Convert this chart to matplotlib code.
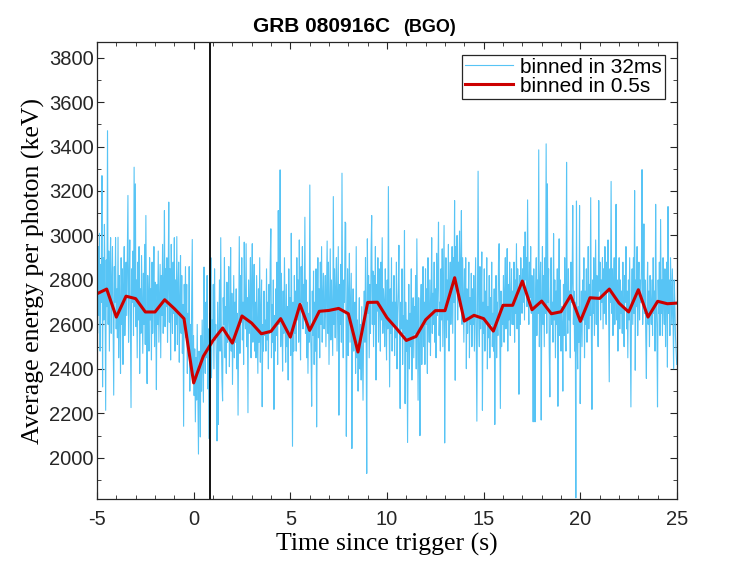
import numpy as np
import matplotlib
matplotlib.use('Agg')
import matplotlib.pyplot as plt
from matplotlib.ticker import MultipleLocator

plt.rcParams['axes.unicode_minus'] = False

# 32 ms binned average energy (keV), starting at t = -5 s
bin_32ms = 0.032
t0 = -5.0
energy_32ms = [
    2820, 2560, 2950, 2640, 3010, 2480, 2870, 2700, 3269, 2319, 2900, 2620, 3050, 2760, 2214, 2890,
    2680, 3471, 2600, 2930, 2480, 2840, 2990, 2560, 2780, 2950, 2620, 2282, 2860, 2700, 2990, 2580,
    2760, 2540, 2992, 2450, 2820, 2690, 2380, 2900, 2600, 2850, 2420, 2760, 2950, 2550, 2700, 2880,
    2640, 2900, 3180, 2520, 2780, 2980, 2610, 2226, 2850, 2700, 2930, 2550, 3307, 2680, 3232, 2590,
    2800, 2450, 2880, 2620, 2950, 2380, 2760, 2560, 2910, 2690, 2470, 2830, 2600, 2960, 2510, 3090,
    2580, 2334, 2820, 2690, 2480, 2900, 2620, 2760, 2440, 2880, 2560, 2720, 2950, 2500, 2790, 2640,
    2307, 2780, 2600, 2930, 2520, 2700, 2870, 2450, 2820, 2640, 2960, 2560, 2740, 3112, 2590, 2850,
    2680, 2900, 2520, 2780, 3150, 2610, 2850, 2440, 2960, 2700, 2560, 2880, 2650, 2990, 2480, 2800,
    2600, 2995, 2510, 2760, 2880, 2430, 2700, 2910, 2560, 2820, 2470, 2690, 2142, 2780, 2600, 2860,
    2540, 2780, 2380, 2650, 2480, 2860, 2300, 2600, 2420, 2720, 2982, 2350, 2550, 2280, 2490, 2162,
    2450, 2260, 2600, 2330, 2017, 2480, 2380, 2094, 2550, 2300, 2620, 2420, 2250, 2858, 2500, 2380,
    2700, 2450, 2820, 2310, 2580, 2087, 2650, 2480, 2900, 2360, 2620, 2540, 2780, 2400, 2850, 2530,
    2600, 2420, 2076, 2700, 2150, 2560, 2800, 2480, 2990, 2550, 2350, 2256, 2720, 2600, 2900, 2450,
    2680, 2380, 2790, 2520, 2650, 2860, 2410, 2600, 2946, 2480, 2740, 2330, 2580, 2820, 2450, 2700,
    2520, 2760, 2400, 2650, 2192, 2580, 2995, 2470, 2820, 2610, 2900, 2530, 2700, 2420, 2970, 2640,
    2580, 2963, 2500, 2720, 2203, 2800, 2560, 2680, 2900, 2450, 2760, 2963, 2520, 2640, 2870, 2480,
    2700, 2450, 2820, 2600, 2380, 2760, 2520, 2900, 2430, 2650, 2800, 2230, 2600, 2480, 2750, 2550,
    2620, 2480, 2850, 2530, 2700, 2400, 2780, 2560, 2880, 3030, 2450, 2690, 2520, 2800, 2218, 2640,
    2480, 2760, 2550, 2880, 2420, 3112, 2600, 2700, 3295, 2500, 2830, 2640, 2390, 2750, 2560, 2900,
    2620, 2430, 2780, 2500, 2680, 2350, 2850, 2550, 2720, 2460, 3010, 2600, 2052, 2700, 2480, 2820,
    2560, 2750, 2480, 2900, 2620, 2800, 2520, 2980, 2650, 2440, 2860, 2700, 2950, 2580, 2780, 2640,
    3082, 2560, 2800, 2450, 2700, 2380, 2650, 2520, 3227, 2600, 2480, 2232, 2750, 2550, 2840, 2420,
    2700, 2480, 2850, 2139, 2620, 2900, 2540, 2760, 2450, 2880, 2600, 2950, 2520, 2720, 2830, 2580,
    2650, 2820, 2500, 2750, 2975, 2560, 2880, 2420, 2700, 2940, 2530, 2800, 2620, 2460, 3175, 2600,
    2850, 2540, 2760, 2900, 2480, 2700, 2950, 2192, 2780, 2600, 2870, 2520, 3280, 2640, 2450, 2800,
    2700, 3060, 3055, 2097, 2580, 2850, 2460, 2750, 2920, 2520, 2680, 2830, 2042, 2600, 2760, 2480,
    2560, 2700, 2380, 2950, 2450, 2620, 2300, 2540, 2720, 2400, 2600, 2350, 2680, 2480, 2259, 2580,
    2750, 2520, 2900, 2600, 1930, 2985, 2650, 2820, 2450, 2780, 2560, 2920, 3090, 2600, 2840, 2500,
    2820, 2600, 2950, 2350, 2780, 2660, 2900, 2520, 2850, 2700, 2480, 2880, 2620, 2990, 2560, 2760,
    2700, 2500, 2850, 2620, 2440, 2800, 2580, 3220, 2680, 2319, 2760, 2560, 2900, 2480, 2700, 2600,
    2820, 2460, 2700, 2540, 2880, 2400, 2650, 2760, 2956, 2500, 2222, 2700, 2580, 2850, 2420, 2640,
    2560, 3022, 2244, 2700, 2480, 2620, 2069, 2550, 2780, 2400, 2650, 2500, 2850, 2350, 2600, 2720,
    2450, 2680, 2560, 2820, 2400, 2985, 2600, 2259, 2720, 2500, 2100, 2650, 2780, 2420, 2600, 2860,
    2500, 2700, 2420, 2850, 2600, 2760, 2380, 2900, 2650, 2520, 2800, 2460, 2700, 2990, 2560, 2740,
    2600, 2880, 2520, 2760, 2450, 2920, 2640, 2800, 3060, 2550, 2700, 2480, 2850, 2620, 2940, 2500,
    2780, 3045, 2067, 2650, 2900, 2540, 2800, 2620, 2960, 2480, 2750, 2880, 2600, 2720, 2950, 2560,
    2900, 2700, 3157, 2349, 2950, 2800, 3000, 2620, 2880, 2750, 3020, 2680, 2850, 3112, 2600, 2900,
    2700, 2520, 2850, 2620, 2900, 2401, 2760, 2560, 2680, 2880, 2450, 2720, 2600, 2830, 2500, 2760,
    2600, 2820, 2480, 2700, 2900, 2550, 2165, 2750, 3289, 2620, 2500, 2860, 2580, 2700, 2926, 2214,
    2700, 2560, 2850, 2480, 2750, 2620, 2900, 2400, 2680, 2540, 2820, 2450, 2720, 2600, 2880, 2500,
    2650, 2480, 2760, 2150, 2600, 2820, 2450, 2700, 2550, 2880, 2963, 2600, 2222, 2750, 2500, 2680,
    2600, 2820, 2520, 2750, 2900, 2580, 2700, 2941, 2480, 2780, 2620, 2880, 2550, 2720, 2850, 2600,
    2750, 2600, 2880, 2520, 2800, 2650, 2963, 2580, 2850, 2700, 2286, 2820, 2600, 2900, 2750, 2650,
    2850, 2700, 2950, 2620, 3016, 2800, 2900, 2680, 3160, 2750, 2600, 2880, 2720, 2950, 2650, 2820,
    2700, 2162, 2850, 2600, 2162, 2760, 2900, 2550, 2800, 2650, 3385, 2500, 2750, 2880, 2170, 2700,
    2950, 2600, 2820, 2500, 2900, 2650, 3412, 2560, 3232, 2700, 2850, 2480, 2274, 2750, 2900, 2600,
    2700, 2520, 3008, 2620, 2800, 2450, 2750, 2600, 2850, 2232, 2700, 2985, 2550, 2800, 2480, 2680,
    2600, 2300, 2780, 2550, 2900, 2650, 2480, 3329, 2700, 2560, 2850, 2620, 2750, 2450, 2880, 2700,
    2800, 3135, 2600, 2750, 2480, 2700, 1820, 3155, 2550, 2400, 2680, 2520, 3135, 2244, 2600, 2750,
    2500, 2800, 2620, 2900, 2450, 2750, 2600, 2850, 2520, 2700, 2950, 2580, 2780, 2640, 3170, 2600,
    2218, 2800, 2650, 2900, 2550, 2750, 2980, 2600, 2820, 2700, 2500, 3157, 2750, 2880, 2620, 2800,
    2700, 2900, 2580, 2850, 2650, 2950, 2720, 2600, 2880, 2750, 2980, 2650, 2342, 2850, 2700, 3243,
    2650, 2850, 2550, 2780, 2900, 2600, 2750, 3140, 2620, 2800, 2480, 2720, 2900, 2580, 2800, 2650,
    2750, 2560, 2880, 2650, 2500, 2820, 2700, 2950, 2580, 2750, 2450, 2800, 2620, 2900, 2550, 2229,
    2700, 2850, 2600, 2900, 2650, 3202, 2394, 2800, 2680, 2950, 2550, 2750, 2880, 2620, 2800, 2700,
    2850, 3296, 2600, 2750, 3052, 2650, 2800, 2550, 2357, 2700, 2880, 2600, 2750, 2500, 2820, 2680,
    2600, 2800, 2550, 2900, 2650, 2750, 2480, 3140, 2700, 2580, 2229, 2800, 2650, 2880, 2550, 3072,
    2650, 2800, 2550, 2900, 2700, 2600, 2850, 2500, 2750, 2880, 2408, 3130, 2650, 2800, 2550, 2900,
    2750, 2600, 2850, 2650, 2401, 2800, 2700, 2550, 2480, 2420,
]

# 0.5 s binned average energy (keV), t = -5 ... 25
bin_05s = 0.5
energy_05s = [
    2738, 2759, 2633, 2727, 2716, 2656, 2656, 2711, 2671, 2626,
    2337, 2457, 2528, 2584, 2516, 2638, 2606, 2558, 2569, 2626,
    2543, 2690, 2573, 2659, 2663, 2672, 2648, 2476, 2699, 2700,
    2630, 2581, 2528, 2546, 2621, 2662, 2662, 2810, 2615, 2641,
    2626, 2570, 2686, 2686, 2795, 2666, 2705, 2648, 2657, 2730,
    2614, 2720, 2717, 2759, 2696, 2656, 2756, 2633, 2704, 2693, 2696,
]

t_marker = 0.85  # vertical reference line (s)

t_32 = t0 + bin_32ms * np.arange(len(energy_32ms))
t_05 = t0 + bin_05s * np.arange(len(energy_05s))

fig = plt.figure(figsize=(7.47, 5.61), dpi=100)
ax = fig.add_axes([97 / 747, 1 - 499 / 561, 580 / 747, 457 / 561])

ax.plot(t_32, energy_32ms, color='#57C4F5', linewidth=0.8, label='binned in 32ms')
ax.plot(t_05, energy_05s, color='#CC0000', linewidth=2.2, label='binned in 0.5s')
ax.axvline(t_marker, color='black', linewidth=1.3)

ax.set_xlim(-5, 25)
ax.set_ylim(1815, 3870)
ax.xaxis.set_major_locator(MultipleLocator(5))
ax.xaxis.set_minor_locator(MultipleLocator(1))
ax.yaxis.set_major_locator(MultipleLocator(200))
ax.yaxis.set_minor_locator(MultipleLocator(100))
ax.yaxis.set_major_formatter(matplotlib.ticker.FormatStrFormatter('%d'))
ax.tick_params(which='both', direction='in', top=True, right=True, color='#262626')
ax.tick_params(which='major', length=5, labelsize=14.5, labelcolor='#262626')
ax.tick_params(which='minor', length=3)
ax.tick_params(axis='x', which='major', pad=8)
ax.tick_params(axis='y', which='major', pad=2.5)
for lbl in ax.get_xticklabels() + ax.get_yticklabels():
    lbl.set_family('Liberation Sans')
for s in ax.spines.values():
    s.set_color('#262626')
    s.set_linewidth(0.9)

ax.set_xlabel('Time since trigger (s)', family='Liberation Serif', fontsize=18.5, labelpad=3)
ax.set_ylabel('Average energy per photon (keV)', family='Liberation Serif', fontsize=18.5, labelpad=3)

leg = ax.legend(loc='upper right', prop={'family': 'Liberation Sans', 'size': 15},
                fancybox=False, framealpha=1, edgecolor='#262626', handlelength=2.3,
                borderpad=0.15, labelspacing=0.0, handletextpad=0.3, borderaxespad=0.6)
leg.get_frame().set_linewidth(0.9)

fig.text(253 / 747, 1 - 26 / 561, 'GRB 080916C', family='Liberation Sans', fontweight='bold',
         fontsize=15, va='center', ha='left')
fig.text(403 / 747, 1 - 27 / 561, '(BGO)', family='Liberation Sans', fontweight='bold',
         fontsize=13, va='center', ha='left')

fig.savefig('out.png', dpi=100)
